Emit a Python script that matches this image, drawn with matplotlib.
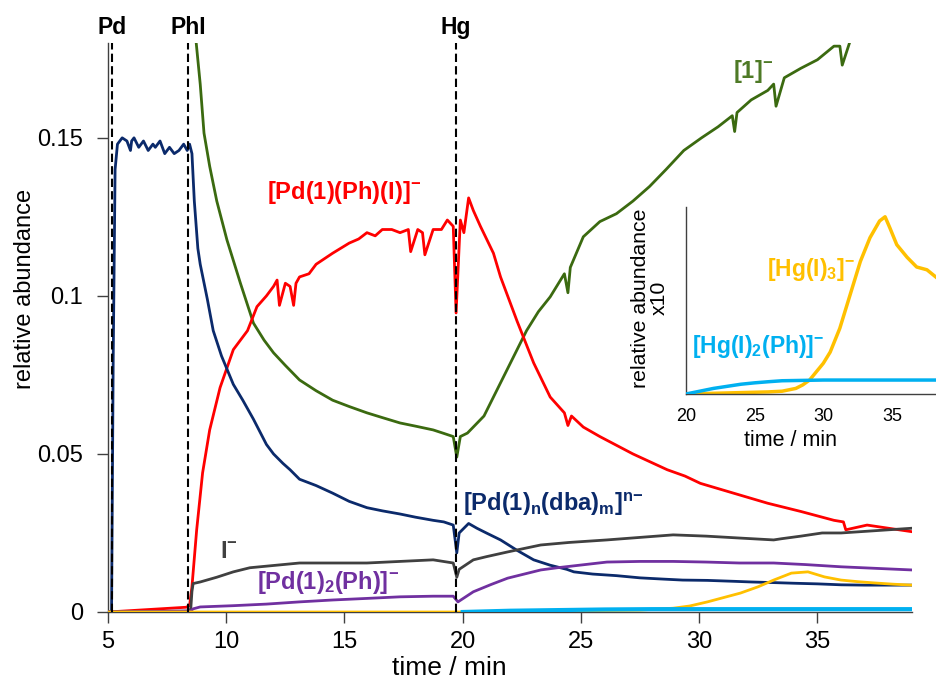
import matplotlib
matplotlib.use("Agg")
import matplotlib.pyplot as plt

plt.rcParams['font.family'] = ['Liberation Sans', 'DejaVu Sans']
plt.rcParams['mathtext.fontset'] = 'custom'
plt.rcParams['mathtext.rm'] = 'Liberation Sans'
plt.rcParams['mathtext.bf'] = 'Liberation Sans:bold'
plt.rcParams['mathtext.it'] = 'Liberation Sans:italic'

# ---------------- data ----------------
events = {"Pd": 5.17, "PhI": 8.39, "Hg": 19.7}

navy_t = [5.0, 5.15, 5.22, 5.3, 5.4, 5.6, 5.8, 5.95, 6.0, 6.1, 6.3, 6.5, 6.7, 6.9, 7.0, 7.2, 7.4, 7.6, 7.8,
          8.0, 8.2, 8.35, 8.45, 8.55, 8.65, 8.8, 8.9, 9.2, 9.45, 9.8, 10.3, 10.7, 11.15, 11.7, 12.0, 12.4,
          12.7, 13.1, 13.8, 14.5, 15.2, 15.95, 16.6, 17.35, 18.0, 18.75, 19.2, 19.6, 19.75, 19.85, 20.25,
          20.6, 21.0, 21.6, 22.3, 23.0, 23.7, 24.4, 24.7, 25.5, 26.5, 27.5, 28.5, 29.3, 30.35, 31.5, 32.2,
          33.15, 34.0, 35.0, 36.0, 37.0, 38.0, 39.0]
navy_v = [0.0, 0.0, 0.08, 0.140, 0.148, 0.150, 0.149, 0.146, 0.149, 0.150, 0.147, 0.149, 0.146, 0.148, 0.147,
          0.149, 0.145, 0.147, 0.145, 0.146, 0.148, 0.146, 0.148, 0.145, 0.130, 0.115, 0.110, 0.099, 0.089,
          0.081, 0.072, 0.067, 0.061, 0.053, 0.050, 0.047, 0.045, 0.042, 0.040, 0.0376, 0.035, 0.033, 0.032,
          0.031, 0.030, 0.029, 0.0285, 0.0275, 0.0187, 0.025, 0.028, 0.0265, 0.025, 0.0228, 0.0195, 0.0165,
          0.0148, 0.0135, 0.0127, 0.012, 0.0115, 0.0108, 0.0104, 0.0101, 0.0100, 0.0097, 0.0095, 0.0093,
          0.0091, 0.0089, 0.0086, 0.0085, 0.0085, 0.0085]

red_t = [5.0, 8.3, 8.45, 8.55, 8.75, 9.0, 9.3, 9.74, 10.3, 10.9, 11.3, 11.7, 12.0, 12.15, 12.25, 12.5, 12.7,
         12.85, 12.95, 13.1, 13.5, 13.8, 14.2, 14.5, 15.2, 15.6, 15.95, 16.3, 16.6, 17.0, 17.35, 17.7, 17.8,
         18.1, 18.3, 18.4, 18.75, 19.1, 19.35, 19.6, 19.72, 19.9, 20.05, 20.25, 20.45, 20.75, 21.3, 21.6,
         22.3, 23.0, 23.7, 24.3, 24.45, 24.6, 25.1, 25.8, 27.2, 28.65, 29.4, 30.05, 31.45, 32.9, 34.3, 35.7,
         36.1, 36.2, 37.1, 38.0, 39.0]
red_v = [0.0, 0.0015, 0.002, 0.008, 0.026, 0.044, 0.0576, 0.071, 0.083, 0.089, 0.0966, 0.100, 0.103, 0.105,
         0.097, 0.104, 0.103, 0.097, 0.104, 0.106, 0.107, 0.110, 0.112, 0.1135, 0.1167, 0.118, 0.120, 0.119,
         0.121, 0.121, 0.120, 0.121, 0.114, 0.121, 0.120, 0.113, 0.121, 0.121, 0.124, 0.122, 0.0946, 0.124,
         0.120, 0.131, 0.127, 0.122, 0.1135, 0.106, 0.092, 0.0788, 0.068, 0.063, 0.059, 0.062, 0.0585,
         0.0555, 0.050, 0.045, 0.043, 0.0407, 0.0376, 0.0344, 0.0318, 0.029, 0.0285, 0.026, 0.0275, 0.0265,
         0.0254]

green_t = [8.6, 8.9, 9.06, 9.3, 9.6, 10.03, 10.6, 11.15, 11.6, 12.0, 12.5, 13.1, 13.8, 14.5, 15.2, 15.95,
           16.6, 17.35, 18.0, 18.75, 19.2, 19.6, 19.75, 19.9, 20.2, 20.9, 21.6, 22.3, 22.7, 23.2, 23.7, 24.3,
           24.45, 24.55, 25.1, 25.8, 26.5, 27.2, 27.9, 28.6, 29.35, 30.1, 30.8, 31.4, 31.5, 31.6, 32.2, 32.9,
           33.15, 33.25, 33.6, 34.3, 35.0, 35.7, 35.95, 36.05, 36.4, 37.0]
green_v = [0.19, 0.167, 0.1515, 0.141, 0.130, 0.1177, 0.104, 0.0914, 0.086, 0.082, 0.078, 0.0734, 0.070,
           0.067, 0.065, 0.063, 0.0615, 0.0598, 0.0588, 0.0576, 0.0565, 0.0555, 0.049, 0.0555, 0.0566, 0.062,
           0.0725, 0.083, 0.089, 0.095, 0.0997, 0.107, 0.101, 0.109, 0.1187, 0.1235, 0.126, 0.130, 0.1346,
           0.140, 0.146, 0.150, 0.1535, 0.157, 0.152, 0.158, 0.162, 0.165, 0.167, 0.160, 0.169, 0.172, 0.1747,
           0.179, 0.179, 0.173, 0.181, 0.184]

gray_t = [5.0, 8.4, 8.5, 8.55, 8.6, 8.9, 9.6, 10.3, 11.0, 11.7, 13.1, 14.5, 15.95, 17.35, 18.75, 19.6, 19.75,
          19.85, 20.45, 21.0, 21.9, 23.3, 24.5, 26.1, 27.5, 28.9, 30.3, 31.7, 33.15, 33.5, 34.3, 35.2, 36.0,
          37.0, 38.0, 39.0]
gray_v = [0.0, 0.0003, 0.001, 0.0065, 0.009, 0.0095, 0.011, 0.0127, 0.014, 0.0145, 0.0155, 0.0155, 0.0155,
          0.016, 0.0165, 0.0155, 0.011, 0.0135, 0.0165, 0.0175, 0.019, 0.0212, 0.022, 0.0228, 0.0236, 0.0244,
          0.024, 0.0234, 0.0228, 0.0232, 0.024, 0.025, 0.025, 0.0255, 0.026, 0.0265]

purple_t = [5.0, 8.5, 8.6, 8.9, 10.3, 11.7, 13.1, 14.5, 15.95, 17.35, 18.75, 19.6, 19.8, 20.45, 21.2, 21.9,
            22.6, 23.3, 24.0, 24.7, 25.4, 26.1, 27.5, 28.9, 30.3, 31.7, 33.15, 34.5, 36.0, 37.5, 39.0]
purple_v = [0.0, 0.0003, 0.001, 0.0016, 0.002, 0.0025, 0.0032, 0.0038, 0.0043, 0.0048, 0.005, 0.005, 0.0032,
            0.0064, 0.0087, 0.0107, 0.012, 0.0133, 0.014, 0.0146, 0.0152, 0.0158, 0.016, 0.016, 0.0158,
            0.0155, 0.0155, 0.015, 0.0143, 0.0138, 0.0133]

yellow_t = [5.0, 20.0, 24.0, 27.5, 28.9, 29.6, 30.35, 31.0, 31.75, 32.5, 33.15, 33.9, 34.6, 35.3, 36.0, 36.7,
            37.4, 38.2, 39.0]
yellow_v = [0.0, 0.0, 0.0003, 0.0006, 0.0012, 0.0019, 0.0032, 0.0045, 0.006, 0.008, 0.0101, 0.0123, 0.0127,
            0.0111, 0.0101, 0.0096, 0.0092, 0.0088, 0.0085]

blue_t = [20.0, 22.0, 24.0, 26.0, 28.0, 30.0, 33.0, 36.0, 39.0]
blue_v = [0.0, 0.0004, 0.0006, 0.0008, 0.0009, 0.0009, 0.0009, 0.0009, 0.0009]

# inset (x10 scale)
inset_yellow_t = [20, 22, 24, 26, 27, 28, 28.5, 29, 29.5, 30, 30.5, 31.2, 31.95, 32.7, 33.4, 34.1, 34.5,
                  34.85, 35.35, 36.1, 36.8, 37.55, 38.3]
inset_yellow_v = [0, 0.0005, 0.001, 0.0015, 0.002, 0.004, 0.0065, 0.010, 0.016, 0.022, 0.030, 0.047, 0.071,
                  0.095, 0.112, 0.124, 0.127, 0.119, 0.107, 0.098, 0.091, 0.089, 0.083]
inset_blue_t = [20, 21, 22, 23, 24, 25, 26, 27, 30, 33, 36, 38.3]
inset_blue_v = [0, 0.002, 0.004, 0.0055, 0.007, 0.008, 0.0088, 0.0095, 0.010, 0.010, 0.010, 0.010]

xticks = [5, 10, 15, 20, 25, 30, 35]
yticks = [0, 0.05, 0.1, 0.15]
ytick_labels = ["0", "0.05", "0.1", "0.15"]
inset_xticks = [20, 25, 30, 35]

C_NAVY = "#0b2a6b"
C_RED = "#ff0000"
C_GREEN = "#3b6a10"
C_GREEN_LBL = "#4e7a26"
C_GRAY = "#404040"
C_PURPLE = "#7030a0"
C_YELLOW = "#ffc000"
C_BLUE = "#00b0f0"
SPINE = "#404040"

W, H = 936, 679
fig = plt.figure(figsize=(W / 100, H / 100), dpi=100)
ax = fig.add_axes([108 / W, 1 - 612 / H, 804 / W, 569 / H])

lw = 2.0
ax.plot(green_t, green_v, color=C_GREEN, lw=lw, zorder=2)
ax.plot(red_t, red_v, color=C_RED, lw=lw, zorder=3)
ax.plot(navy_t, navy_v, color=C_NAVY, lw=lw, zorder=4)
ax.plot(gray_t, gray_v, color=C_GRAY, lw=lw, zorder=5)
ax.plot(purple_t, purple_v, color=C_PURPLE, lw=lw, zorder=5)
ax.plot(yellow_t, yellow_v, color=C_YELLOW, lw=lw, zorder=6)
ax.plot(blue_t, blue_v, color=C_BLUE, lw=3.0, zorder=6)

for name, t in events.items():
    ax.axvline(t, color="black", lw=1.5, linestyle=(0, (4, 2)), zorder=7)
    ax.text(t, 1.028, name, transform=ax.get_xaxis_transform(), ha="center", va="center",
            fontsize=16.5, fontweight="bold", color="black")

ax.set_xlim(5, 39)
ax.set_ylim(0, 0.18)
ax.set_xticks(xticks)
ax.set_xticklabels([str(v) for v in xticks])
ax.set_yticks(yticks)
ax.set_yticklabels(ytick_labels)
for s in ["top", "right"]:
    ax.spines[s].set_visible(False)
for s in ["left", "bottom"]:
    ax.spines[s].set_color(SPINE)
    ax.spines[s].set_linewidth(1.0)
ax.tick_params(axis="both", direction="out", length=8, width=1, color=SPINE, labelsize=17)
ax.tick_params(axis="y", pad=10)
ax.tick_params(axis="x", pad=6)
ax.set_xlabel("time / min", fontsize=19, va="center")
ax.xaxis.set_label_coords(0.425, -0.098)
ax.set_ylabel("relative abundance", fontsize=17, va="center")
ax.yaxis.set_label_coords(-0.103, 0.568)

lab = dict(fontsize=17, fontweight="bold", va="center", ha="left")
ax.text(11.73, 0.1326, r"[Pd(1)(Ph)(I)]$^{\mathbf{-}}$", color=C_RED, **lab)
ax.text(31.45, 0.171, r"[1]$^{\mathbf{-}}$", color=C_GREEN_LBL, **lab)
ax.text(20.02, 0.0339, r"[Pd(1)$_{\mathbf{n}}$(dba)$_{\mathbf{m}}$]$^{\mathbf{n{-}}}$", color=C_NAVY, **lab)
ax.text(9.74, 0.019, r"I$^{\mathbf{-}}$", color=C_GRAY, **lab)
ax.text(11.3, 0.0092, r"[Pd(1)$_{\mathbf{2}}$(Ph)]$^{\mathbf{-}}$", color=C_PURPLE, **lab)

# ---------------- inset ----------------
axi = fig.add_axes([686 / W, 1 - 394 / H, (W - 686) / W, 187 / H])
axi.plot(inset_yellow_t, inset_yellow_v, color=C_YELLOW, lw=2.5, zorder=2)
axi.plot(inset_blue_t, inset_blue_v, color=C_BLUE, lw=2.5, zorder=3)
axi.set_xlim(20, 20 + (W - 686) / 13.73)
axi.set_ylim(0, 0.134)
axi.set_xticks(inset_xticks)
axi.set_xticklabels([str(v) for v in inset_xticks])
axi.set_yticks([])
axi.patch.set_alpha(0)
for s in ["top", "right"]:
    axi.spines[s].set_visible(False)
for s in ["left", "bottom"]:
    axi.spines[s].set_color(SPINE)
    axi.spines[s].set_linewidth(1.0)
axi.tick_params(axis="x", length=0, labelsize=13, pad=10)
axi.set_xlabel("time / min", fontsize=15.5, va="center")
axi.xaxis.set_label_coords((790 - 686) / (W - 686), -(440 - 394) / 187)
axi.set_ylabel("relative abundance\nx10", fontsize=15.3, linespacing=1.0, va="center",
               ha="center", multialignment="center")
axi.yaxis.set_label_coords(-(686 - 650) / (W - 686), (394 - 298) / 187)

labi = dict(fontsize=16.5, fontweight="bold", va="center", ha="left")
axi.text(25.9, 0.089, r"[Hg(I)$_{\mathbf{3}}$]$^{\mathbf{-}}$", color=C_YELLOW, **labi)
axi.text(20.44, 0.0337, r"[Hg(I)$_{\mathbf{2}}$(Ph)]$^{\mathbf{-}}$", color=C_BLUE, **labi)

fig.savefig("out.png", dpi=100)
